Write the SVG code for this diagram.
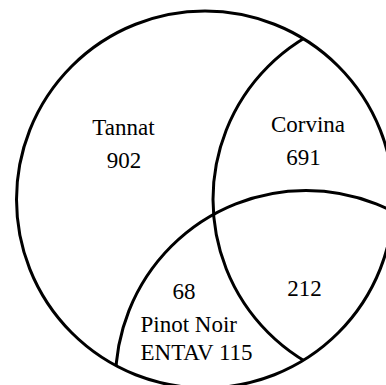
<svg xmlns="http://www.w3.org/2000/svg" width="386" height="385" viewBox="0 0 386 385">
  <style>
    .set { fill: none; stroke: #000; stroke-width: 3; }
    .mid { text-anchor: middle; }
    .lbl { font-family: "Liberation Serif", "Tinos", "DejaVu Serif", "Noto Serif", serif; font-size: 23px; fill: #000; }
  </style>
  <defs>
    <!-- the inner sets are only drawn inside the Tannat disc -->
    <clipPath id="tannat-disc">
      <circle cx="205" cy="199.5" r="188.5"/>
    </clipPath>
  </defs>
  <rect width="386" height="385" fill="#fff"/>
  <!-- Tannat set -->
  <g id="tannat">
    <circle class="set" cx="205" cy="199.5" r="188.5"/>
    <text class="lbl mid" x="123.5" y="135">Tannat</text>
    <text class="lbl mid" x="124" y="167.5">902</text>
  </g>
  <!-- Corvina set -->
  <g id="corvina">
    <circle class="set" cx="401" cy="199.5" r="188" clip-path="url(#tannat-disc)"/>
    <text class="lbl mid" x="308" y="131.5">Corvina</text>
    <text class="lbl mid" x="303.5" y="165">691</text>
  </g>
  <!-- Pinot Noir ENTAV 115 set -->
  <g id="pinot-noir">
    <circle class="set" cx="306" cy="381" r="190.5" clip-path="url(#tannat-disc)"/>
    <text class="lbl mid" x="184" y="299">68</text>
    <text class="lbl" x="140.5" y="331.5">Pinot Noir</text>
    <text class="lbl" x="140.5" y="360">ENTAV 115</text>
  </g>
  <!-- shared region -->
  <g id="overlap">
    <text class="lbl mid" x="304.5" y="296">212</text>
  </g>
  <g id="connectors"/>
</svg>
